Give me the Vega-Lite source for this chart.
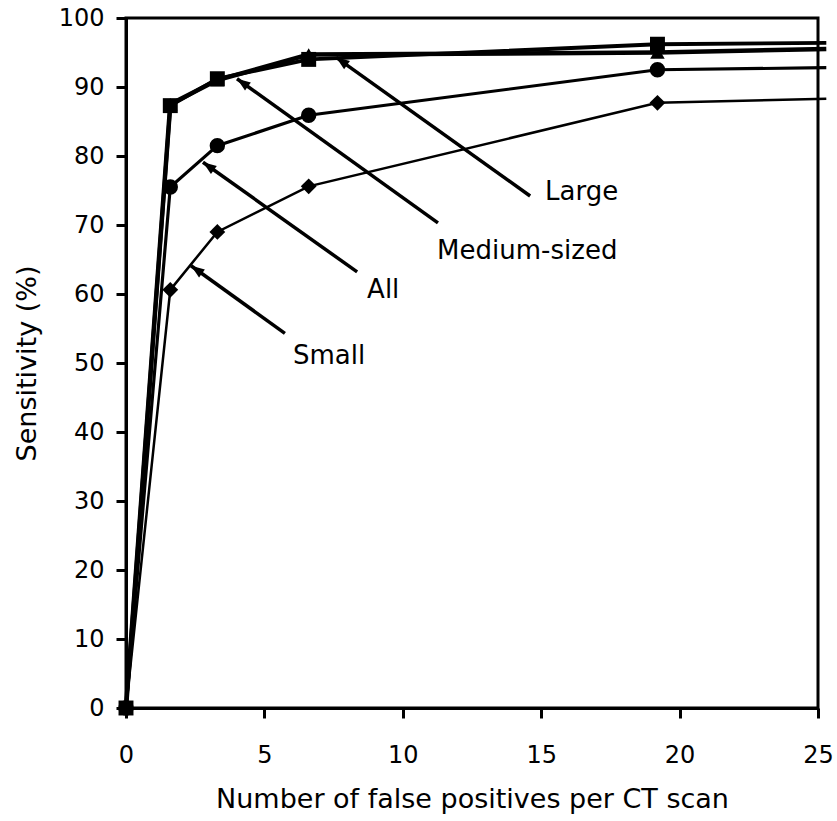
{
  "$schema": "https://vega.github.io/schema/vega-lite/v6.json",
  "width": 692,
  "height": 690,
  "autosize": {"type": "none"},
  "padding": {"left": 126, "top": 18, "right": 19, "bottom": 113},
  "background": "white",
  "config": {
    "view": {"stroke": "black", "strokeWidth": 3},
    "axis": {
      "grid": false,
      "domainColor": "black",
      "domainWidth": 3,
      "tickColor": "black",
      "tickWidth": 3,
      "tickSize": 10,
      "labelFont": "DejaVu Sans",
      "labelFontSize": 24,
      "labelColor": "black",
      "labelFlush": false,
      "labelOverlap": false,
      "titleFont": "DejaVu Sans",
      "titleFontSize": 27,
      "titleFontWeight": "normal",
      "titleColor": "black"
    }
  },
  "datasets": {
    "series": [
      {"series": "Small", "x": 0, "y": 0},
      {"series": "Small", "x": 1.6, "y": 60.6},
      {"series": "Small", "x": 3.3, "y": 69.0},
      {"series": "Small", "x": 6.6, "y": 75.6},
      {"series": "Small", "x": 19.2, "y": 87.7},
      {"series": "Small", "x": 25.3, "y": 88.3},
      {"series": "All", "x": 0, "y": 0},
      {"series": "All", "x": 1.6, "y": 75.5},
      {"series": "All", "x": 3.3, "y": 81.5},
      {"series": "All", "x": 6.6, "y": 85.9},
      {"series": "All", "x": 19.2, "y": 92.5},
      {"series": "All", "x": 25.3, "y": 92.8},
      {"series": "Medium-sized", "x": 0, "y": 0},
      {"series": "Medium-sized", "x": 1.6, "y": 87.3},
      {"series": "Medium-sized", "x": 3.3, "y": 91.2},
      {"series": "Medium-sized", "x": 6.6, "y": 94.0},
      {"series": "Medium-sized", "x": 19.2, "y": 96.2},
      {"series": "Medium-sized", "x": 25.3, "y": 96.4},
      {"series": "Large", "x": 0, "y": 0},
      {"series": "Large", "x": 1.6, "y": 87.5},
      {"series": "Large", "x": 3.3, "y": 91.0},
      {"series": "Large", "x": 6.6, "y": 94.7},
      {"series": "Large", "x": 19.2, "y": 95.0},
      {"series": "Large", "x": 25.3, "y": 95.5}
    ],
    "labels": [
      {"label": "Large", "x": 15.14, "y": 74.8, "tx": 14.6, "ty": 74.2, "hx": 7.59, "hy": 94.3},
      {"label": "Medium-sized", "x": 11.24, "y": 66.2, "tx": 11.27, "ty": 70.3, "hx": 4.01, "hy": 91.2},
      {"label": "All", "x": 8.71, "y": 60.6, "tx": 8.35, "ty": 63.2, "hx": 2.78, "hy": 79.1},
      {"label": "Small", "x": 6.03, "y": 51.0, "tx": 5.74, "ty": 54.3, "hx": 2.35, "hy": 64.1}
    ]
  },
  "layer": [
    {
      "data": {"name": "labels"},
      "mark": {"type": "rule", "color": "black", "strokeWidth": 3.5},
      "encoding": {
        "x": {"field": "tx", "type": "quantitative"},
        "y": {"field": "ty", "type": "quantitative"},
        "x2": {"field": "hx"},
        "y2": {"field": "hy"}
      }
    },
    {
      "data": {"name": "labels"},
      "mark": {"type": "point", "shape": "M0,0L0.75,2L-0.75,2Z", "filled": true, "color": "black", "opacity": 1, "size": 180, "angle": 305.5},
      "encoding": {
        "x": {"field": "hx", "type": "quantitative"},
        "y": {"field": "hy", "type": "quantitative"}
      }
    },
    {
      "data": {"name": "labels"},
      "mark": {"type": "text", "align": "left", "baseline": "middle", "font": "DejaVu Sans", "fontSize": 26, "color": "black"},
      "encoding": {
        "x": {"field": "x", "type": "quantitative"},
        "y": {"field": "y", "type": "quantitative"},
        "text": {"field": "label"}
      }
    },
    {
      "data": {"name": "series"},
      "mark": {"type": "line", "color": "black", "clip": false},
      "encoding": {
        "x": {
          "field": "x", "type": "quantitative",
          "scale": {"domain": [0, 25], "nice": false, "zero": false},
          "axis": {"values": [0, 5, 10, 15, 20, 25], "labelPadding": 25, "titlePadding": 19, "title": "Number of false positives per CT scan"}
        },
        "y": {
          "field": "y", "type": "quantitative",
          "scale": {"domain": [0, 100], "nice": false},
          "axis": {"values": [0, 10, 20, 30, 40, 50, 60, 70, 80, 90, 100], "labelPadding": 12, "titlePadding": 17, "title": "Sensitivity (%)"}
        },
        "detail": {"field": "series"},
        "strokeWidth": {
          "field": "series", "type": "nominal",
          "scale": {"domain": ["Small", "All", "Medium-sized", "Large"], "range": [2.5, 4.5, 4, 2.5]},
          "legend": null
        }
      }
    },
    {
      "data": {"name": "series"},
      "transform": [{"filter": "datum.x <= 25"}],
      "mark": {"type": "point", "filled": true, "color": "black", "opacity": 1},
      "encoding": {
        "x": {"field": "x", "type": "quantitative"},
        "y": {"field": "y", "type": "quantitative"},
        "shape": {
          "field": "series", "type": "nominal",
          "scale": {"domain": ["Small", "All", "Medium-sized", "Large"], "range": ["diamond", "circle", "square", "triangle-up"]},
          "legend": null
        },
        "size": {
          "field": "series", "type": "nominal",
          "scale": {"domain": ["Small", "All", "Medium-sized", "Large"], "range": [250, 210, 230, 220]},
          "legend": null
        }
      }
    }
  ]
}
